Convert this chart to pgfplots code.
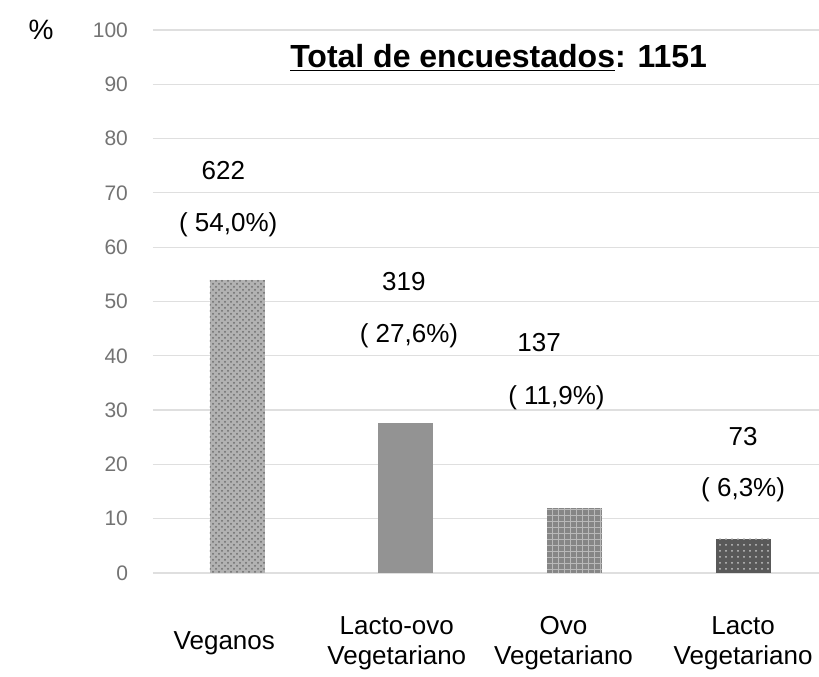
\documentclass[border=0pt]{standalone}
\usepackage{fontspec}
\setmainfont{Liberation Sans}
\usepackage{pgfplots}
\pgfplotsset{compat=1.18}
\usetikzlibrary{patterns}
\begin{document}
\begin{tikzpicture}
\begin{axis}[
  scale only axis,
  width=333pt, height=271.5pt,
  xmin=-0.5, xmax=3.45,
  ymin=0, ymax=100,
  ytick={0,10,...,100},
  xtick={-0.077,0.946,1.935,3},
  xticklabels={Veganos,{Lacto-ovo\\Vegetariano},{Ovo\\Vegetariano},{Lacto\\Vegetariano}},
  xticklabel style={align=center, font=\fontsize{13}{15}\selectfont, anchor=center, yshift=-35pt},
  yticklabel style={font=\fontsize{10.5}{12}\selectfont, text=gray!90!black, xshift=-9pt},
  /pgf/number format/assume math mode=true,
  ymajorgrids,
  grid style={gray!25, line width=0.6pt},
  axis line style={draw=none},
  major tick length=0pt,
  bar width=27.5pt,
  clip=false,
]
\addplot[ybar, bar shift=0pt, draw=none, fill=gray!60, postaction={pattern=crosshatch dots, pattern color=gray!85!black}] coordinates {(0,54.0)};
\addplot[ybar, bar shift=0pt, draw=none, fill=gray!85] coordinates {(1,27.6)};
\addplot[ybar, bar shift=0pt, draw=none, fill=gray!95, postaction={pattern=grid, pattern color=gray!55}] coordinates {(2,11.9)};
\addplot[ybar, bar shift=0pt, draw=none, fill=black!65, postaction={pattern=dots, pattern color=gray!45}] coordinates {(3,6.3)};
\node[font=\fontsize{13}{15}\selectfont] at (axis cs:-0.083,74.2) {622};
\node[font=\fontsize{13}{15}\selectfont] at (axis cs:-0.054,64.1) {( 54,0\%)};
\node[font=\fontsize{13}{15}\selectfont] at (axis cs:0.988,53.6) {319};
\node[font=\fontsize{13}{15}\selectfont] at (axis cs:1.018,43.6) {( 27,6\%)};
\node[font=\fontsize{13}{15}\selectfont] at (axis cs:1.79,42.5) {137};
\node[font=\fontsize{13}{15}\selectfont] at (axis cs:1.893,32.2) {( 11,9\%)};
\node[font=\fontsize{13}{15}\selectfont] at (axis cs:3.0,25.2) {73};
\node[font=\fontsize{13}{15}\selectfont] at (axis cs:3.0,15.3) {( 6,3\%)};
\node[font=\bfseries\fontsize{16}{18}\selectfont] at (axis cs:1.55,94.8) {\underline{Total de encuestados}: 1151};
\node[font=\fontsize{14}{16}\selectfont] at ([xshift=-56pt]rel axis cs:0,1) {\%};
\end{axis}
\pgfresetboundingbox
\path[use as bounding box] ([xshift=-76.5pt,yshift=15pt]current axis.north west) rectangle ([yshift=-52pt]current axis.south east);
\end{tikzpicture}
\end{document}
